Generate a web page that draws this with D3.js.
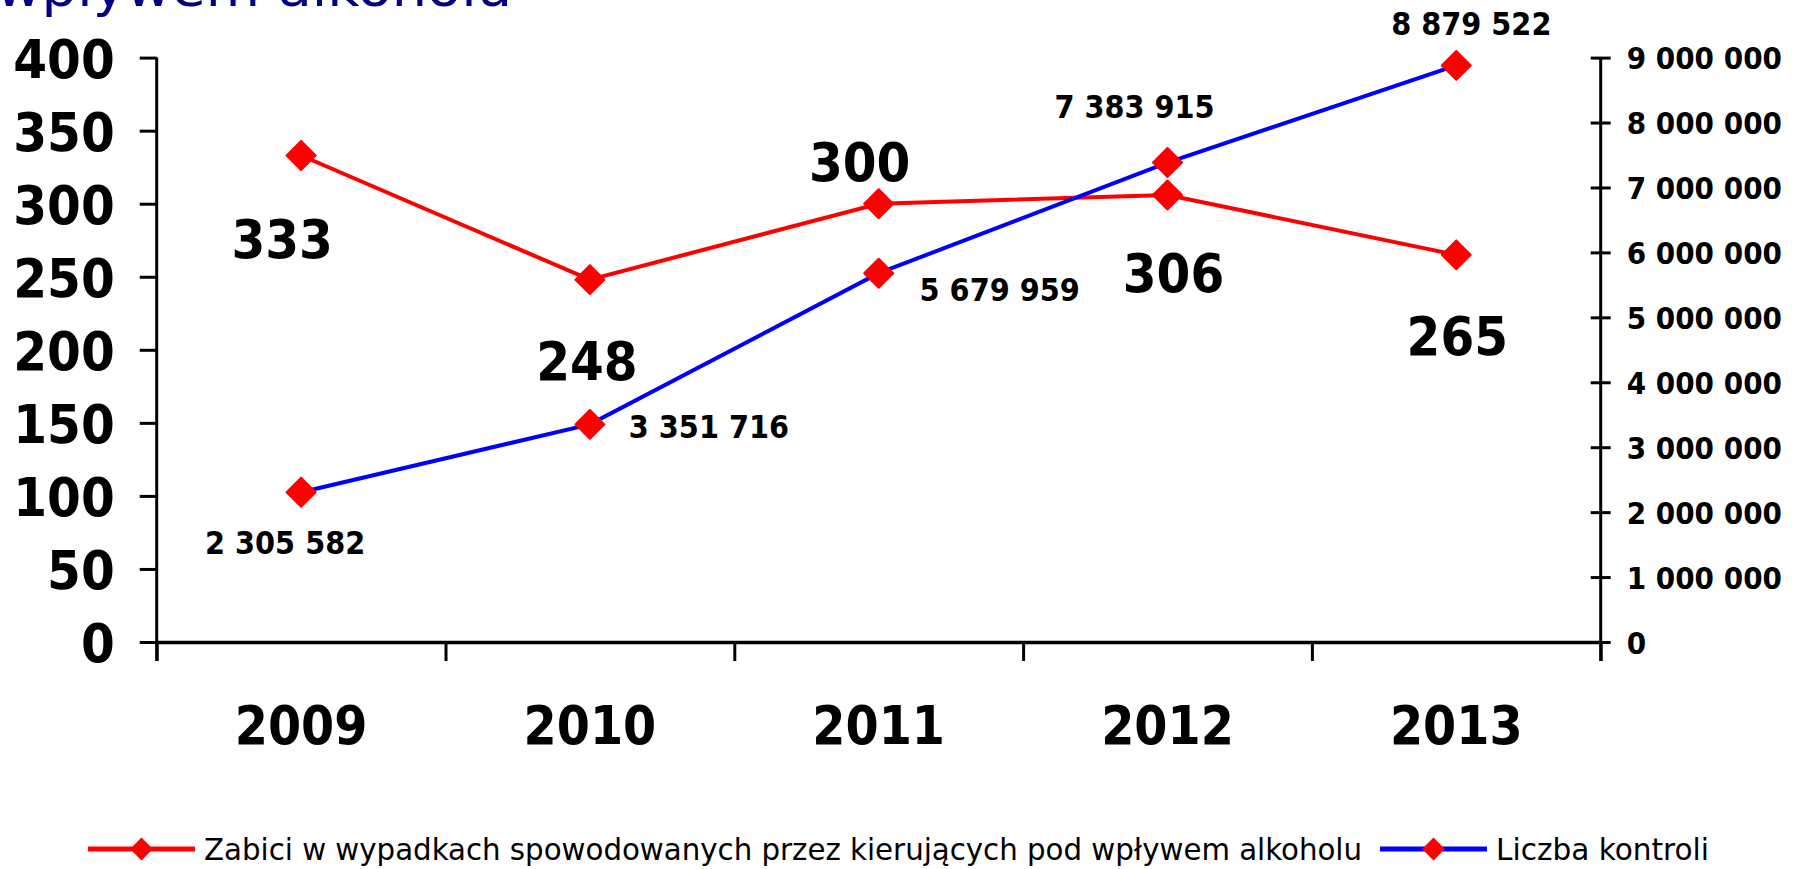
<!DOCTYPE html>
<html>
<head>
<meta charset="utf-8">
<script src="https://cdn.jsdelivr.net/npm/d3@7"></script>
<style>
  body { margin: 0; background: #fff; }
  svg text { font-family: "DejaVu Sans Condensed", "DejaVu Sans", sans-serif; }
</style>
</head>
<body>
<svg id="chart" width="1805" height="869"></svg>
<script>
// data
const years = ["2009", "2010", "2011", "2012", "2013"];
const killed = [333, 248, 300, 306, 265];           // left axis
const checks = [2305582, 3351716, 5679959, 7383915, 8879522]; // right axis
const leftTicks = [0, 50, 100, 150, 200, 250, 300, 350, 400];
const rightTicks = [0, 1000000, 2000000, 3000000, 4000000, 5000000, 6000000, 7000000, 8000000, 9000000];
const seriesNames = ["Zabici w wypadkach spowodowanych przez kierujących pod wpływem alkoholu", "Liczba kontroli"];

// label offsets from their point (dx, dy to baseline)
const killedLabelOff = [[-19, 103], [-3, 100], [-19, -23], [6, 97], [1, 100]];
const checksLabelOff = [[-16, 62], [119, 14], [121, 28], [-33, -45], [15, -30]];

const plotLeft = 156.7, plotRight = 1600.7, plotTop = 57.6, plotBottom = 642;

const svg = d3.select("#chart");

const x = d3.scaleBand().domain(years).range([plotLeft, plotRight]);
const xEdge = d3.scaleLinear().domain([0, years.length]).range([plotLeft, plotRight]);
const yL = d3.scaleLinear().domain([0, 400]).range([plotBottom, plotTop]);
const yR = d3.scaleLinear().domain([0, 9000000]).range([plotBottom, plotTop]);
const cx = d => x(d) + x.bandwidth() / 2;

const spaced = v => d3.format(",")(v).replace(/,/g, " ");

// title (cut off at the top of the image, as in the source)
svg.append("text")
  .attr("x", -4).attr("y", 6)
  .attr("fill", "#000080")
  .style("font-family", "'DejaVu Sans', sans-serif")
  .attr("font-size", 52)
  .attr("textLength", 516).attr("lengthAdjust", "spacingAndGlyphs")
  .text("wpływem alkoholu");

// left axis
const gL = svg.append("g")
  .attr("transform", `translate(${plotLeft},0)`)
  .call(d3.axisLeft(yL).tickValues(leftTicks).tickSize(17).tickPadding(25).tickSizeOuter(0));
gL.selectAll("text").attr("font-size", 54).attr("font-weight", "bold").attr("fill", "#000").attr("dy", "0.36em");

// right axis
const gR = svg.append("g")
  .attr("transform", `translate(${plotRight},0)`)
  .call(d3.axisRight(yR).tickValues(rightTicks).tickSize(10).tickPadding(16).tickSizeOuter(0).tickFormat(spaced));
gR.selectAll(".tick line").attr("x1", -10);
gR.selectAll("text").attr("font-size", 31).attr("font-weight", "bold").attr("fill", "#000").attr("dy", "0.36em");

// bottom axis: ticks between categories
const gB = svg.append("g")
  .attr("transform", `translate(0,${plotBottom})`)
  .call(d3.axisBottom(xEdge).ticks(years.length).tickSize(19).tickFormat("").tickSizeOuter(0));

// year labels
const gY = svg.append("g")
  .attr("transform", `translate(0,${plotBottom})`)
  .call(d3.axisBottom(x).tickSize(0));
gY.select(".domain").remove();
gY.selectAll("text").attr("y", 102).attr("dy", 0)
  .attr("font-size", 53).attr("font-weight", "bold").attr("fill", "#000");

[gL, gR, gB].forEach(g => {
  g.selectAll("path, line").attr("stroke", "#000").attr("stroke-width", 3);
});
gB.select(".domain").attr("stroke-width", 3.5);
// vertical axis lines run down past zero like the tick marks
gL.select(".domain").attr("d", `M0,${plotTop}V${plotBottom + 19}`);
gR.select(".domain").attr("d", `M0,${plotTop}V${plotBottom + 19}`);

// series
const series = [
  { values: killed, y: yL, color: "#ff0000", off: killedLabelOff, size: 54 },
  { values: checks, y: yR, color: "#0000ff", off: checksLabelOff, size: 32 }
];

const line = (s) => d3.line().x((d, i) => cx(years[i])).y(d => s.y(d));

series.forEach(s => {
  svg.append("path")
    .datum(s.values)
    .attr("fill", "none")
    .attr("stroke", s.color)
    .attr("stroke-width", 4)
    .attr("d", line(s));
});

series.forEach(s => {
  svg.append("g").selectAll("path")
    .data(s.values)
    .join("path")
    .attr("transform", (d, i) => `translate(${cx(years[i])},${s.y(d)}) rotate(45)`)
    .attr("d", d3.symbol().type(d3.symbolSquare).size(420))
    .attr("fill", "#ff0000")
    .attr("stroke", "#ff0000")
    .attr("stroke-width", 2)
    .attr("stroke-linejoin", "round");

  svg.append("g").selectAll("text")
    .data(s.values)
    .join("text")
    .attr("x", (d, i) => cx(years[i]) + s.off[i][0])
    .attr("y", (d, i) => s.y(d) + s.off[i][1])
    .attr("text-anchor", "middle")
    .attr("font-size", s.size)
    .attr("font-weight", "bold")
    .attr("fill", "#000")
    .text(d => spaced(d));
});

// legend
const legend = [
  { name: seriesNames[0], color: "#ff0000", x1: 88, x2: 195, tx: 204, tw: 1158 },
  { name: seriesNames[1], color: "#0000ff", x1: 1380, x2: 1487, tx: 1496, tw: 213 }
];
const ly = 849;
legend.forEach(l => {
  svg.append("line")
    .attr("x1", l.x1).attr("x2", l.x2).attr("y1", ly).attr("y2", ly)
    .attr("stroke", l.color).attr("stroke-width", 5);
  svg.append("path")
    .attr("transform", `translate(${(l.x1 + l.x2) / 2},${ly}) rotate(45)`)
    .attr("d", d3.symbol().type(d3.symbolSquare).size(260))
    .attr("fill", "#ff0000");
  svg.append("text")
    .attr("x", l.tx).attr("y", ly + 11)
    .attr("font-size", 31)
    .attr("fill", "#000")
    .attr("textLength", l.tw).attr("lengthAdjust", "spacingAndGlyphs")
    .text(l.name);
});
</script>
</body>
</html>
